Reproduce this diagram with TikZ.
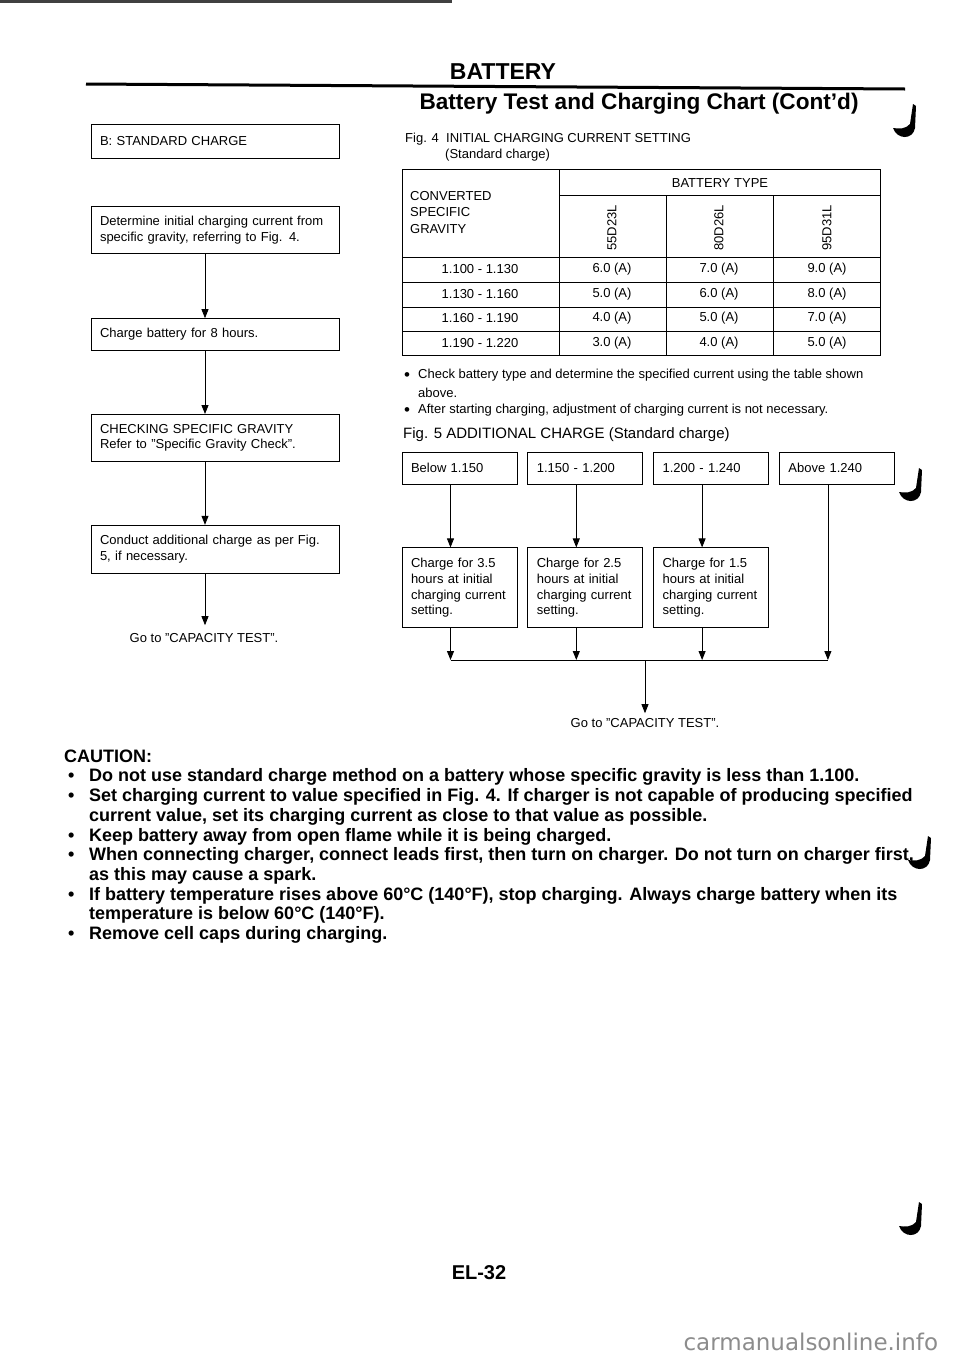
\documentclass[tikz,border=0pt]{standalone}
\usepackage{fontspec}
\setmainfont{Liberation Sans}
\newfontfamily\wmfont{DejaVu Sans}
\usetikzlibrary{arrows.meta,positioning}

% ink hook marks on the page edge
\newcommand\inkmark[2]{%
  \fill[shift={(#1,#2)}] (-13,-2) .. controls (-9,10) and (7,10) .. (9,-2)
    -- (10,-24) -- (7,-26) -- (4,-6) .. controls (0,-1) and (-7,-1) .. cycle;}

\begin{document}
\begin{tikzpicture}[x=1pt, y=-1pt,
    node distance=63pt,
    smalltext/.style={font=\fontsize{13}{15.8}\selectfont},
    stepbox/.style={draw, line width=0.8pt, smalltext, align=left, text width=230pt,
        inner xsep=9pt, inner ysep=3pt},
    rangebox/.style={draw, line width=0.8pt, smalltext, align=left, text width=97pt,
        inner xsep=9pt, inner ysep=3pt, minimum height=32pt},
    chargebox/.style={rangebox, minimum height=80pt},
    cell/.style={smalltext, inner sep=0pt},
    grid/.style={line width=0.8pt},
    flow/.style={line width=0.8pt},
    arrow/.style={-{Triangle[length=9pt,width=7pt]}, line width=0.8pt},
    caution/.style={font=\fontsize{18}{19.7}\selectfont\bfseries, align=left, inner sep=0pt}
  ]
  \useasboundingbox (0,0) rectangle (960,1358);

  % page header
  \fill[black!75] (0,0) rectangle (452,2.5);
  \node[font=\fontsize{23}{26}\selectfont\bfseries] (hdr) at (503,72) {BATTERY};
  \draw[line width=3pt] (86,84) -- (905,89);
  \node[font=\fontsize{22.6}{26}\selectfont\bfseries, anchor=west] (title) at (416,104)
    {Battery Test and Charging Chart (Cont'd)};

  % left flow chart
  \coordinate (axisL) at (205,0);
  \node[stepbox, minimum height=34pt] (stdB) at (215,141) {B: STANDARD CHARGE};
  \node[stepbox, minimum height=47pt, below=48pt of stdB] (determine)
    {Determine initial charging current from\\specific gravity, referring to Fig. 4.};
  \node[stepbox, minimum height=32pt, below=64pt of determine] (charge8)
    {Charge battery for 8 hours.};
  \node[stepbox, minimum height=47pt, below=of charge8] (checkSG)
    {CHECKING SPECIFIC GRAVITY\\Refer to "Specific Gravity Check".};
  \node[stepbox, minimum height=48pt, below=of checkSG] (conduct)
    {Conduct additional charge as per Fig.\\5, if necessary.};
  \node[cell] (gotoA) at (204,638) {Go to "CAPACITY TEST".};
  \draw[arrow] (determine.south -| axisL) -- (charge8.north -| axisL);
  \draw[arrow] (charge8.south -| axisL) -- (checkSG.north -| axisL);
  \draw[arrow] (checkSG.south -| axisL) -- (conduct.north -| axisL);
  \draw[arrow, shorten >=8pt] (conduct.south -| axisL) -- (gotoA.north -| axisL);

  % Fig. 4 table
  \node[cell, anchor=west] (fig4) at (405,139) {Fig. 4~~INITIAL CHARGING CURRENT SETTING};
  \node[cell, anchor=west] (fig4sub) at (445,155) {(Standard charge)};
  \draw[grid] (402,169) rectangle (880,355);
  \draw[grid] (559,169) -- (559,355);
  \draw[grid] (559,195) -- (880,195);
  \foreach \y in {257,282,307,331} \draw[grid] (402,\y) -- (880,\y);
  \foreach \x in {666,773} \draw[grid] (\x,195) -- (\x,355);
  \node[cell] (btype) at (720,183) {BATTERY TYPE};
  \node[cell, anchor=north west, align=left, font=\fontsize{13}{16.5}\selectfont] (csg)
    at (410,191) {CONVERTED\\SPECIFIC\\GRAVITY};
  \foreach \bt/\x in {55D23L/612, 80D26L/719, 95D31L/827}
    \node[cell, rotate=90] (type-\bt) at (\x,228) {\bt};
  \foreach \sg/\a/\b/\c [count=\i] in {1.100 - 1.130/6.0/7.0/9.0, 1.130 - 1.160/5.0/6.0/8.0,
      1.160 - 1.190/4.0/5.0/7.0, 1.190 - 1.220/3.0/4.0/5.0} {
    \pgfmathsetmacro\ry{245+24.5*\i}
    \node[cell] (sg\i) at (480,\ry) {\sg};
    \node[cell] at (612,\ry) {\a\ (A)};
    \node[cell] at (719,\ry) {\b\ (A)};
    \node[cell] at (827,\ry) {\c\ (A)};
  }
  \node[cell, font=\fontsize{17}{17}\selectfont] (dot1) at (407,377) {\textbullet};
  \node[cell, anchor=west] (note1) at (418,375)
    {Check battery type and determine the specified current using the table shown};
  \node[cell, anchor=west] (note1b) at (418,393) {above.};
  \node[cell, font=\fontsize{17}{17}\selectfont] (dot2) at (407,412) {\textbullet};
  \node[cell, anchor=west] (note2) at (418,410)
    {After starting charging, adjustment of charging current is not necessary.};

  % Fig. 5 chart
  \node[cell, anchor=west, font=\fontsize{15}{17}\selectfont] (fig5) at (403,435)
    {Fig. 5 ADDITIONAL CHARGE (Standard charge)};
  \node[rangebox] (rng1) at (459.5,468) {Below 1.150};
  \node[rangebox, right=10pt of rng1] (rng2) {1.150 - 1.200};
  \node[rangebox, right=10pt of rng2] (rng3) {1.200 - 1.240};
  \node[rangebox, right=10pt of rng3] (rng4) {Above 1.240};
  \node[chargebox, below=63pt of rng1] (chg1)
    {Charge for 3.5\\hours at initial\\charging current\\setting.};
  \node[chargebox, below=63pt of rng2] (chg2)
    {Charge for 2.5\\hours at initial\\charging current\\setting.};
  \node[chargebox, below=63pt of rng3] (chg3)
    {Charge for 1.5\\hours at initial\\charging current\\setting.};
  \coordinate (bus) at (645,660);
  \node[cell] (gotoB) at (645,723) {Go to "CAPACITY TEST".};
  \foreach \n in {1,2,3} {
    \draw[arrow] ([xshift=-9pt]rng\n.south) -- ([xshift=-9pt]chg\n.north);
    \draw[arrow] ([xshift=-9pt]chg\n.south) -- ([xshift=-9pt]chg\n.south |- bus);
  }
  \draw[arrow] ([xshift=-9pt]rng4.south) -- ([xshift=-9pt]rng4.south |- bus);
  \draw[flow] ([xshift=-9pt]chg1.south |- bus) -- ([xshift=-9pt]rng4.south |- bus);
  \draw[arrow, shorten >=5pt] (bus) -- (gotoB.north);

  % cautions
  \node[caution, anchor=north west] (caution) at (64,749.5) {CAUTION:\\
    \hspace*{4pt}\makebox[21pt][l]{\textbullet}Do not use standard charge method on a battery whose specific gravity is less than 1.100.\\
    \hspace*{4pt}\makebox[21pt][l]{\textbullet}Set charging current to value specified in Fig. 4. If charger is not capable of producing specified\\
    \hspace*{25pt}current value, set its charging current as close to that value as possible.\\
    \hspace*{4pt}\makebox[21pt][l]{\textbullet}Keep battery away from open flame while it is being charged.\\
    \hspace*{4pt}\makebox[21pt][l]{\textbullet}When connecting charger, connect leads first, then turn on charger. Do not turn on charger first,\\
    \hspace*{25pt}as this may cause a spark.\\
    \hspace*{4pt}\makebox[21pt][l]{\textbullet}If battery temperature rises above 60°C (140°F), stop charging. Always charge battery when its\\
    \hspace*{25pt}temperature is below 60°C (140°F).\\
    \hspace*{4pt}\makebox[21pt][l]{\textbullet}Remove cell caps during charging.};

  % page foot
  \node[font=\fontsize{20}{22}\selectfont\bfseries] (pagenum) at (479,1273) {EL-32};
  \node[font=\wmfont\fontsize{23}{25}\selectfont, text=black!45, anchor=west] (wm)
    at (680,1342) {carmanualsonline.info};

  % ink marks
  \inkmark{906}{130}
  \inkmark{912}{494}
  \inkmark{921}{862}
  \inkmark{912}{1228}
\end{tikzpicture}
\end{document}
